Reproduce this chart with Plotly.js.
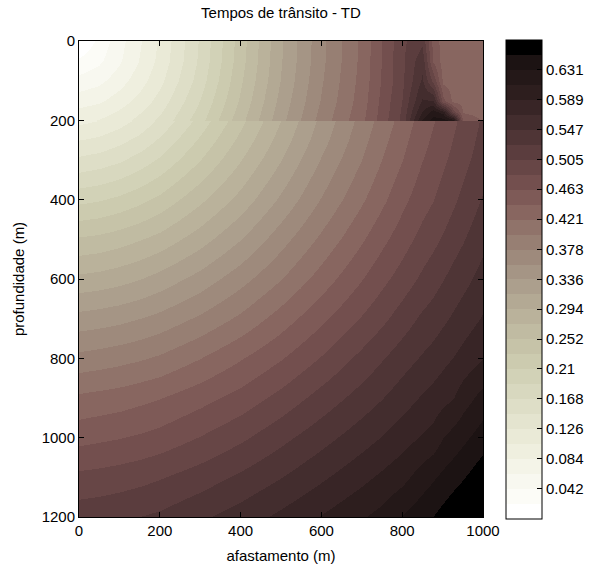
<!DOCTYPE html>
<html>
<head>
<meta charset="utf-8">
<script src="https://cdn.plot.ly/plotly-3.0.1.min.js"></script>
<style>html,body{margin:0;padding:0;background:#fff;}#plot{width:594px;height:569px;}</style>
</head>
<body>
<div id="plot"></div>
<script>
// offsets (m) and depths (m) of the travel-time grid
const afastamento = [0, 50, 100, 150, 200, 300, 400, 500, 600, 700, 750, 800, 850, 875, 900, 925, 950, 1000];
const profundidade = [0, 50, 100, 150, 180, 199, 201, 250, 300, 400, 500, 600, 700, 800, 900, 1000, 1100, 1200];

// travel times (s), one row per depth
const t_z0    = [0.000, 0.027, 0.055, 0.082, 0.109, 0.171, 0.243, 0.313, 0.372, 0.426, 0.463, 0.500, 0.520, 0.455, 0.432, 0.432, 0.432, 0.432];
const t_z50   = [0.025, 0.038, 0.060, 0.086, 0.112, 0.173, 0.245, 0.314, 0.373, 0.427, 0.464, 0.500, 0.540, 0.460, 0.432, 0.432, 0.432, 0.432];
const t_z100  = [0.050, 0.058, 0.075, 0.097, 0.121, 0.179, 0.250, 0.317, 0.376, 0.429, 0.465, 0.500, 0.550, 0.500, 0.436, 0.432, 0.432, 0.432];
const t_z150  = [0.075, 0.081, 0.095, 0.113, 0.135, 0.190, 0.257, 0.323, 0.380, 0.432, 0.469, 0.505, 0.570, 0.570, 0.470, 0.436, 0.432, 0.432];
const t_z180  = [0.090, 0.096, 0.108, 0.125, 0.145, 0.197, 0.263, 0.327, 0.384, 0.435, 0.471, 0.508, 0.590, 0.620, 0.600, 0.500, 0.440, 0.435];
const t_z199  = [0.100, 0.106, 0.117, 0.133, 0.152, 0.203, 0.267, 0.330, 0.387, 0.437, 0.473, 0.510, 0.610, 0.640, 0.640, 0.620, 0.455, 0.440];
const t_z201  = [0.100, 0.106, 0.117, 0.133, 0.152, 0.198, 0.247, 0.295, 0.342, 0.387, 0.408, 0.429, 0.451, 0.461, 0.471, 0.480, 0.489, 0.508];
const t_z250  = [0.126, 0.131, 0.141, 0.154, 0.172, 0.214, 0.259, 0.304, 0.349, 0.393, 0.414, 0.435, 0.456, 0.466, 0.475, 0.484, 0.493, 0.512];
const t_z300  = [0.152, 0.157, 0.165, 0.178, 0.193, 0.231, 0.273, 0.315, 0.359, 0.400, 0.421, 0.441, 0.462, 0.471, 0.480, 0.489, 0.498, 0.516];
const t_z400  = [0.205, 0.209, 0.216, 0.226, 0.238, 0.269, 0.303, 0.341, 0.380, 0.418, 0.437, 0.457, 0.475, 0.483, 0.492, 0.501, 0.510, 0.528];
const t_z500  = [0.255, 0.258, 0.264, 0.272, 0.281, 0.306, 0.336, 0.370, 0.404, 0.439, 0.457, 0.474, 0.491, 0.499, 0.507, 0.516, 0.524, 0.541];
const t_z600  = [0.300, 0.303, 0.308, 0.315, 0.324, 0.345, 0.371, 0.399, 0.430, 0.462, 0.478, 0.493, 0.509, 0.517, 0.525, 0.533, 0.540, 0.555];
const t_z700  = [0.345, 0.348, 0.352, 0.358, 0.365, 0.383, 0.405, 0.431, 0.458, 0.486, 0.500, 0.515, 0.530, 0.536, 0.543, 0.550, 0.557, 0.570];
const t_z800  = [0.385, 0.388, 0.392, 0.397, 0.403, 0.420, 0.440, 0.461, 0.485, 0.511, 0.524, 0.537, 0.549, 0.555, 0.562, 0.568, 0.575, 0.588];
const t_z900  = [0.425, 0.428, 0.431, 0.436, 0.441, 0.455, 0.471, 0.491, 0.513, 0.535, 0.546, 0.558, 0.570, 0.576, 0.582, 0.588, 0.600, 0.618];
const t_z1000 = [0.456, 0.459, 0.462, 0.466, 0.471, 0.485, 0.501, 0.520, 0.539, 0.559, 0.569, 0.580, 0.591, 0.597, 0.610, 0.618, 0.626, 0.642];
const t_z1100 = [0.489, 0.491, 0.494, 0.498, 0.503, 0.515, 0.530, 0.546, 0.564, 0.583, 0.593, 0.603, 0.620, 0.628, 0.636, 0.643, 0.650, 0.666];
const t_z1200 = [0.517, 0.519, 0.522, 0.526, 0.530, 0.543, 0.557, 0.573, 0.590, 0.608, 0.617, 0.632, 0.645, 0.652, 0.660, 0.668, 0.675, 0.690];

// colour bar
const tMax = 0.6728;
const cbTickText = ["0.042", "0.084", "0.126", "0.168", "0.21", "0.252", "0.294", "0.336", "0.378", "0.421", "0.463", "0.505", "0.547", "0.589", "0.631"];
const cbTickVals = [0.042, 0.084, 0.126, 0.168, 0.210, 0.252, 0.294, 0.336, 0.378, 0.4205, 0.4625, 0.5046, 0.5467, 0.5887, 0.6307];

// 32-level map, lowest value (white) first
const bandColors = [
  [255,255,255],[252,252,247],[248,248,240],[244,244,232],[239,239,223],[234,234,215],[228,228,207],[222,222,199],
  [216,216,191],[210,210,183],[204,203,175],[198,195,168],[192,187,162],[186,178,155],[179,169,148],[172,159,141],
  [165,149,133],[158,138,124],[151,127,115],[144,115,106],[136,102,96],[126,90,87],[115,79,78],[103,70,70],
  [91,61,62],[79,53,54],[67,45,46],[56,37,38],[45,30,30],[36,24,24],[28,19,19],[0,0,0]
];

const zMatrix = [t_z0, t_z50, t_z100, t_z150, t_z180, t_z199, t_z201, t_z250, t_z300, t_z400,
                 t_z500, t_z600, t_z700, t_z800, t_z900, t_z1000, t_z1100, t_z1200];

const n = bandColors.length;
const colorscale = [];
bandColors.forEach((c, k) => {
  const col = `rgb(${c[0]},${c[1]},${c[2]})`;
  colorscale.push([k / n, col]);
  colorscale.push([(k + 1) / n, col]);
});

const font = {family: 'Liberation Sans, Arial, sans-serif', size: 15, color: '#000'};

const trace = {
  type: 'heatmap',
  x: afastamento,
  y: profundidade,
  z: zMatrix,
  zsmooth: 'best',
  zmin: 0,
  zmax: tMax,
  colorscale: colorscale,
  hoverinfo: 'skip',
  colorbar: {
    x: 1.057, xanchor: 'left', xpad: 0,
    y: 0.5, yanchor: 'middle', ypad: 0,
    len: 1.006, lenmode: 'fraction',
    thickness: 36, thicknessmode: 'pixels',
    outlinecolor: '#000', outlinewidth: 1,
    tickmode: 'array', tickvals: cbTickVals, ticktext: cbTickText,
    ticks: 'inside', ticklen: 5, tickcolor: '#000',
    tickfont: font
  }
};

const layout = {
  width: 594, height: 569,
  margin: {l: 79, r: 111, t: 41, b: 52, autoexpand: false},
  paper_bgcolor: '#fff', plot_bgcolor: '#fff',
  font: font,
  title: {text: 'Tempos de trânsito - TD', font: font, x: 0.473, xanchor: 'center', y: 0.977, yanchor: 'middle'},
  xaxis: {
    range: [0, 1000], tickvals: [0, 200, 400, 600, 800, 1000],
    ticks: 'inside', ticklen: 5, tickcolor: '#000', showline: true, linecolor: '#000', linewidth: 1,
    mirror: 'allticks', showgrid: false, zeroline: false, tickfont: font,
    title: {text: 'afastamento (m)', font: font, standoff: 12}
  },
  yaxis: {
    range: [1200, 0], tickvals: [0, 200, 400, 600, 800, 1000, 1200],
    ticks: 'inside', ticklen: 5, tickcolor: '#000', showline: true, linecolor: '#000', linewidth: 1,
    mirror: 'allticks', showgrid: false, zeroline: false, tickfont: font,
    title: {text: 'profundidade (m)', font: font, standoff: 13}
  }
};

Plotly.newPlot('plot', [trace], layout, {displayModeBar: false, staticPlot: true});
</script>
</body>
</html>
